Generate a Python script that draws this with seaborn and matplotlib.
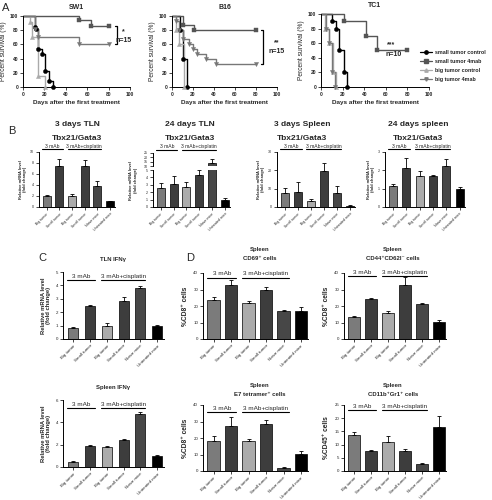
import numpy as np
import pandas as pd
import matplotlib
matplotlib.use("Agg")
import matplotlib.pyplot as plt
import matplotlib.transforms as mtransforms
from matplotlib.lines import Line2D
import seaborn as sns

# ---------------- data ----------------
# Panel A survival curves (days, percent survival)
sw1_small_ctrl_t = [0, 11, 12, 14, 18, 21, 24, 28]
sw1_small_ctrl_s = [100, 85, 81, 54, 46, 23, 8, 0]
sw1_small_mab_t = [0, 52, 64, 80]
sw1_small_mab_s = [100, 94, 86, 86]
sw1_big_ctrl_t = [0, 7, 8, 14, 21]
sw1_big_ctrl_s = [100, 91, 71, 15, 0]
sw1_big_mab_t = [0, 11, 14, 52, 80]
sw1_big_mab_s = [100, 82, 70, 60, 60]

b16_small_ctrl_t = [0, 8, 10, 14]
b16_small_ctrl_s = [100, 80, 40, 0]
b16_small_mab_t = [0, 10, 21, 80]
b16_small_mab_s = [100, 87, 80, 80]
b16_big_ctrl_t = [0, 4, 7, 11]
b16_big_ctrl_s = [100, 80, 60, 0]
b16_big_mab_t = [0, 4, 7, 10, 16, 20, 24, 32, 42, 80]
b16_big_mab_s = [100, 93, 80, 67, 60, 53, 47, 40, 33, 33]

tc1_small_ctrl_t = [0, 10, 14, 17, 21, 24]
tc1_small_ctrl_s = [100, 90, 80, 50, 20, 0]
tc1_small_mab_t = [0, 21, 42, 52, 80]
tc1_small_mab_s = [100, 90, 70, 50, 50]
tc1_big_ctrl_t = [0, 4, 7, 11, 14]
tc1_big_ctrl_s = [100, 80, 60, 20, 0]
tc1_big_mab_t = [0, 5, 7, 10, 13]
tc1_big_mab_s = [100, 80, 60, 20, 0]

legend_labels = ["small tumor control", "small tumor 4mab",
                 "big tumor control", "big tumor 4mab"]

# Bar panels
bar_labels = ["Big tumor", "Small tumor", "Big tumor", "Small tumor",
              "Naive mice", "Untreated mice"]
bar_keys = ["g0", "g1", "g2", "g3", "g4", "g5"]

b1_vals = [2.0, 7.4, 2.0, 7.4, 3.9, 1.0]
b1_errs = [0.2, 1.4, 0.45, 1.1, 0.8, 0.15]
b2_vals = [2.6, 3.1, 2.7, 4.3, 14.0, 1.0]
b2_errs = [0.6, 1.1, 0.7, 0.7, 4.0, 0.15]
b3_vals = [7.5, 8.2, 3.0, 19.8, 7.8, 0.8]
b3_errs = [3.0, 5.3, 1.5, 4.0, 3.8, 0.5]
b4_vals = [1.12, 2.1, 1.7, 1.68, 2.22, 0.97]
b4_errs = [0.12, 0.55, 0.25, 0.05, 0.38, 0.1]

c1_vals = [0.85, 2.5, 1.0, 2.85, 3.8, 1.0]
c1_errs = [0.08, 0.07, 0.2, 0.25, 0.15, 0.05]
c2_vals = [0.45, 1.9, 1.75, 2.4, 4.75, 1.0]
c2_errs = [0.07, 0.07, 0.15, 0.15, 0.15, 0.05]

d1_vals = [23.5, 33.0, 21.8, 30.0, 17.0, 17.0]
d1_errs = [1.7, 3.0, 1.0, 1.5, 0.5, 2.3]
d2_vals = [13.5, 24.5, 15.8, 32.5, 21.3, 10.3]
d2_errs = [0.5, 0.5, 1.3, 5.0, 0.5, 1.0]
d3_vals = [18.3, 27.5, 18.3, 28.2, 1.6, 10.5]
d3_errs = [2.8, 5.5, 1.0, 3.0, 0.8, 1.8]
d4_vals = [13.6, 7.7, 11.0, 7.4, 2.8, 16.7]
d4_errs = [1.2, 0.2, 2.4, 0.8, 0.4, 4.3]

# ---------------- style ----------------
sns.set_theme(style="ticks")
plt.rcParams["font.family"] = ["Liberation Sans", "DejaVu Sans"]
plt.rcParams["axes.linewidth"] = 0.7
plt.rcParams["xtick.major.width"] = 0.6
plt.rcParams["ytick.major.width"] = 0.6
plt.rcParams["xtick.major.size"] = 2
plt.rcParams["ytick.major.size"] = 2
plt.rcParams["xtick.major.pad"] = 1.5
plt.rcParams["ytick.major.pad"] = 1.5
plt.rcParams["axes.edgecolor"] = "black"

W, H = 492, 500
fig = plt.figure(figsize=(W / 100, H / 100), dpi=100)
fig.patch.set_facecolor("white")


def add_ax(l, t, r, b):
    return fig.add_axes([l / W, 1 - b / H, (r - l) / W, (b - t) / H])


def ftext(x, y, s, **kw):
    fig.text(x / W, 1 - y / H, s, **kw)


curve_styles = [
    dict(color="black", marker="o", ms=9),
    dict(color="#555555", marker="s", ms=9),
    dict(color="#aaaaaa", marker="^", ms=9),
    dict(color="#777777", marker="v", ms=9),
]


def surv_panel(ax, curves, title):
    for (t, s), st in zip(curves, curve_styles):
        df = pd.DataFrame({"t": t, "s": s})
        sns.lineplot(data=df, x="t", y="s", ax=ax, color=st["color"],
                     drawstyle="steps-post", lw=1.0, sort=False,
                     estimator=None, clip_on=False)
        sns.scatterplot(data=df.iloc[1:], x="t", y="s", ax=ax,
                        marker=st["marker"], color=st["color"], s=st["ms"],
                        edgecolor=st["color"], linewidth=0.3, clip_on=False,
                        zorder=4)
    ax.set_xlim(0, 100)
    ax.set_ylim(0, 100)
    ax.set_xticks([0, 20, 40, 60, 80, 100])
    ax.set_yticks([0, 20, 40, 60, 80, 100])
    ax.tick_params(labelsize=3.5)
    for lab in ax.get_xticklabels() + ax.get_yticklabels():
        lab.set_fontweight("bold")
    ax.set_xlabel("Days after the first treatment", fontsize=4.6,
                  fontweight="bold", labelpad=2)
    ax.set_ylabel("Percent survival (%)", fontsize=4.8, labelpad=2)
    ax.set_title(title, fontsize=5, fontweight="bold", pad=5)
    sns.despine(ax=ax)


def survival_bracket(ax, x, y0, y1, t1, t2, tx, ty1, ty2):
    ax.plot([x - 2, x, x, x - 2], [y0, y0, y1, y1], color="black", lw=0.9,
            clip_on=False)
    ax.text(tx, ty1, t1, fontsize=5, fontweight="bold", ha="center",
            va="center", clip_on=False)
    ax.text(tx, ty2, t2, fontsize=5, fontweight="bold", ha="center",
            va="center", clip_on=False)


# ---------------- Panel A ----------------
ax_sw1 = add_ax(23, 16, 130, 87)
surv_panel(ax_sw1, [(sw1_small_ctrl_t, sw1_small_ctrl_s),
                    (sw1_small_mab_t, sw1_small_mab_s),
                    (sw1_big_ctrl_t, sw1_big_ctrl_s),
                    (sw1_big_mab_t, sw1_big_mab_s)], "SW1")
survival_bracket(ax_sw1, 88, 86, 60, "*", "n=15", 94, 78, 66)

ax_b16 = add_ax(172, 16, 277, 87)
surv_panel(ax_b16, [(b16_small_ctrl_t, b16_small_ctrl_s),
                    (b16_small_mab_t, b16_small_mab_s),
                    (b16_big_ctrl_t, b16_big_ctrl_s),
                    (b16_big_mab_t, b16_big_mab_s)], "B16")
survival_bracket(ax_b16, 87, 80, 33, "**", "n=15", 100, 62, 50)

ax_tc1 = add_ax(321, 14, 429, 87)
surv_panel(ax_tc1, [(tc1_small_ctrl_t, tc1_small_ctrl_s),
                    (tc1_small_mab_t, tc1_small_mab_s),
                    (tc1_big_ctrl_t, tc1_big_ctrl_s),
                    (tc1_big_mab_t, tc1_big_mab_s)], "TC1")
ax_tc1.text(65, 58, "***", fontsize=5, fontweight="bold", ha="center",
            va="center")
ax_tc1.text(67, 44, "n=10", fontsize=5, fontweight="bold", ha="center",
            va="center")

handles = [Line2D([0], [0], color=st["color"], marker=st["marker"], lw=0.9,
                  markersize=2.4) for st in curve_styles]
fig.legend(handles, legend_labels, loc="center left",
           bbox_to_anchor=(418 / W, 1 - 66 / H), frameon=False,
           prop={"size": 3.9, "weight": "bold"}, handlelength=2.2,
           handletextpad=0.6, labelspacing=0.75, borderaxespad=0)

ftext(2, 8, "A", fontsize=8, va="center", ha="left")

# ---------------- bar helpers ----------------
bar_colors = ["#7b7b7b", "#3d3d3d", "#ababab", "#3d3d3d", "#474747", "#000000"]
pal = dict(zip(bar_keys, bar_colors))


def bars(ax, vals, errs, ylim, yticks, tick_fs, show_x=True, width=0.62,
         capsize=1.5):
    df = pd.DataFrame({"grp": bar_keys, "val": vals})
    sns.barplot(data=df, x="grp", y="val", hue="grp", palette=pal,
                legend=False, errorbar=None, width=width, edgecolor="black",
                linewidth=0.5, saturation=1, ax=ax)
    ax.errorbar(np.arange(len(vals)), vals,
                yerr=[np.zeros(len(vals)), errs], fmt="none", ecolor="black",
                elinewidth=0.6, capsize=capsize, capthick=0.6, zorder=3)
    ax.set_xlim(-0.6, 5.4)
    ax.set_ylim(*ylim)
    ax.set_yticks(yticks)
    ax.tick_params(axis="y", labelsize=tick_fs)
    ax.set_xlabel("")
    ax.set_ylabel("")
    if show_x:
        ax.set_xticks(range(len(bar_labels)))
        ax.set_xticklabels(bar_labels, rotation=45, ha="right",
                           rotation_mode="anchor", fontsize=tick_fs)
        sns.despine(ax=ax)
    else:
        ax.set_xticks([])
        sns.despine(ax=ax, bottom=True)


def bracket(ax, yfrac, fs, pad=0.02):
    trans = mtransforms.blended_transform_factory(ax.transData, ax.transAxes)
    for a, b, lab in [(0, 1, "3 mAb"), (2, 4, "3 mAb+cisplatin")]:
        x0, x1 = a - 0.35, b + 0.3
        ax.plot([x0, x1], [yfrac, yfrac], transform=trans, color="black",
                lw=0.8, clip_on=False)
        ax.text((x0 + x1) / 2, yfrac + pad, lab, transform=trans,
                ha="center", va="bottom", fontsize=fs, clip_on=False)


# ---------------- Panel B ----------------
ylab_mrna = "Relative mRNA level\n(fold change)"

ax = add_ax(39, 152, 115, 207)
bars(ax, b1_vals, b1_errs, (0, 10), [0, 2, 4, 6, 8, 10], 2.6, capsize=1.2)
ax.set_ylabel(ylab_mrna, fontsize=2.9, fontweight="bold", labelpad=2)
bracket(ax, 1.05, 3.6, 0.01)
ftext(77, 125, "3 days TLN", fontsize=6, fontweight="bold", ha="center", va="center")
ftext(77, 138, "Tbx21/Gata3", fontsize=6, fontweight="bold", ha="center", va="center")

ax_up = add_ax(153, 153, 230, 166)
bars(ax_up, b2_vals, b2_errs, (10, 25), [10, 15, 20, 25], 2.6, show_x=False,
     capsize=1.2)
ax_lo = add_ax(153, 170, 230, 207)
bars(ax_lo, b2_vals, b2_errs, (0, 5), [0, 1, 2, 3, 4, 5], 2.6, capsize=1.2)
ax_lo.set_ylabel(ylab_mrna, fontsize=2.9, fontweight="bold", labelpad=2)
ax_lo.yaxis.set_label_coords(-0.2, 0.72)
bracket(ax_up, 1.25, 3.6, 0.04)
ftext(190, 125, "24 days TLN", fontsize=6, fontweight="bold", ha="center", va="center")
ftext(190, 138, "Tbx21/Gata3", fontsize=6, fontweight="bold", ha="center", va="center")

ax = add_ax(277, 152, 355, 207)
bars(ax, b3_vals, b3_errs, (0, 30), [0, 10, 20, 30], 2.6, capsize=1.2)
ax.set_ylabel(ylab_mrna, fontsize=2.9, fontweight="bold", labelpad=2)
bracket(ax, 1.05, 3.6, 0.01)
ftext(302, 125, "3 days Spleen", fontsize=6, fontweight="bold", ha="center", va="center")
ftext(302, 138, "Tbx21/Gata3", fontsize=6, fontweight="bold", ha="center", va="center")

ax = add_ax(385, 152, 465, 207)
bars(ax, b4_vals, b4_errs, (0, 3), [0, 1, 2, 3], 2.6, capsize=1.2)
ax.set_ylabel(ylab_mrna, fontsize=2.9, fontweight="bold", labelpad=2)
bracket(ax, 1.05, 3.6, 0.01)
ftext(418, 125, "24 days spleen", fontsize=6, fontweight="bold", ha="center", va="center")
ftext(418, 138, "Tbx21/Gata3", fontsize=6, fontweight="bold", ha="center", va="center")

ftext(8, 131, "B", fontsize=8, va="center", ha="left")

# ---------------- Panel C ----------------
ax = add_ax(63, 272, 164, 339)
bars(ax, c1_vals, c1_errs, (0, 5), [0, 1, 2, 3, 4, 5], 3.2, width=0.6)
ax.set_ylabel(ylab_mrna, fontsize=4.2, fontweight="bold", labelpad=3)
bracket(ax, 0.88, 4.6, 0.02)
ftext(113, 260, "TLN IFNγ", fontsize=4.3, fontweight="bold", ha="center", va="center")

ax = add_ax(63, 400, 164, 467)
bars(ax, c2_vals, c2_errs, (0, 6), [0, 2, 4, 6], 3.2, width=0.6)
ax.set_ylabel(ylab_mrna, fontsize=4.2, fontweight="bold", labelpad=3)
bracket(ax, 0.88, 4.6, 0.02)
ftext(113, 388, "Spleen IFNγ", fontsize=4.3, fontweight="bold", ha="center", va="center")

ftext(38, 258, "C", fontsize=8, va="center", ha="left")

# ---------------- Panel D ----------------
ax = add_ax(203, 273, 308, 339)
bars(ax, d1_vals, d1_errs, (0, 40), [0, 10, 20, 30, 40], 3.2, width=0.7)
ax.set_ylabel("%CD8⁺ cells", fontsize=4.8, fontweight="bold", labelpad=3)
bracket(ax, 0.93, 4.6, 0.02)
ftext(260, 250, "Spleen", fontsize=4.3, fontweight="bold", ha="center", va="center")
ftext(260, 259, "CD69⁺ cells", fontsize=4.3, fontweight="bold", ha="center", va="center")

ax = add_ax(344, 273, 446, 339)
bars(ax, d2_vals, d2_errs, (0, 40), [0, 10, 20, 30, 40], 3.2, width=0.7)
ax.set_ylabel("%CD8⁺ cells", fontsize=4.8, fontweight="bold", labelpad=3)
bracket(ax, 0.95, 4.6, 0.02)
ftext(393, 250, "Spleen", fontsize=4.3, fontweight="bold", ha="center", va="center")
ftext(393, 259, "CD44⁺CD62l⁻ cells", fontsize=4.3, fontweight="bold", ha="center", va="center")

ax = add_ax(203, 405, 308, 471)
bars(ax, d3_vals, d3_errs, (0, 40), [0, 10, 20, 30, 40], 3.2, width=0.7)
ax.set_ylabel("%CD8⁺ cells", fontsize=4.8, fontweight="bold", labelpad=3)
bracket(ax, 0.89, 4.6, 0.02)
ftext(260, 386, "Spleen", fontsize=4.3, fontweight="bold", ha="center", va="center")
ftext(260, 395, "E7 tetramer⁺ cells", fontsize=4.3, fontweight="bold", ha="center", va="center")

ax = add_ax(344, 405, 446, 471)
bars(ax, d4_vals, d4_errs, (0, 25), [0, 5, 10, 15, 20, 25], 3.2, width=0.7)
ax.set_ylabel("%CD45⁺ cells", fontsize=4.8, fontweight="bold", labelpad=3)
bracket(ax, 0.92, 4.6, 0.02)
ftext(393, 386, "Spleen", fontsize=4.3, fontweight="bold", ha="center", va="center")
ftext(393, 395, "CD11b⁺Gr1⁺ cells", fontsize=4.3, fontweight="bold", ha="center", va="center")

ftext(186, 258, "D", fontsize=8, va="center", ha="left")

fig.savefig("out.png", dpi=100, facecolor="white")
